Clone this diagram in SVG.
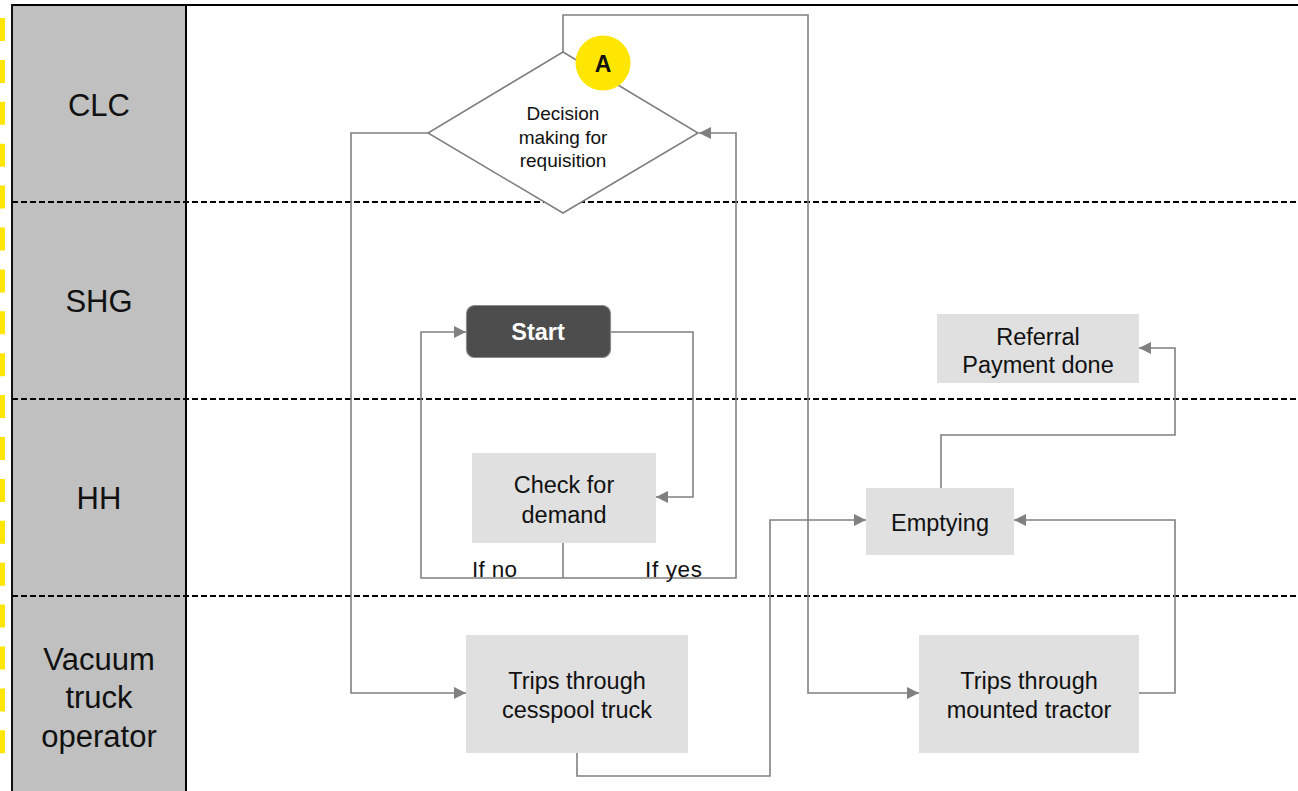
<svg xmlns="http://www.w3.org/2000/svg" width="1298" height="791" viewBox="0 0 1298 791">
<style>
.lane{font-family:"Liberation Sans",Arial,sans-serif;font-size:31px;fill:#111;text-anchor:middle}
.box{fill:#e0e0e0}
.bt{font-family:"Liberation Sans",Arial,sans-serif;font-size:23.5px;fill:#111;text-anchor:middle}
.dt{font-family:"Liberation Sans",Arial,sans-serif;font-size:19px;fill:#111;text-anchor:middle}
.lbl{font-family:"Liberation Sans",Arial,sans-serif;font-size:22.5px;fill:#111}
.sep{stroke:#000;stroke-width:2;stroke-dasharray:6 3;fill:none}
.conn path{fill:none;stroke:#808080;stroke-width:1.6}
</style>
<defs>
<marker id="arr" markerUnits="userSpaceOnUse" markerWidth="13" markerHeight="13" refX="12" refY="6" orient="auto">
<path d="M0,0 L12,6 L0,12 z" fill="#808080"/>
</marker>
</defs>
<rect width="1298" height="791" fill="#ffffff"/>
<g id="lanes">
<rect x="12" y="5" width="173" height="786" fill="#c0c0c0"/>
<line x1="2.5" y1="18" x2="2.5" y2="756" stroke="#ffe600" stroke-width="5" stroke-dasharray="23 18.9"/>
<line x1="11" y1="5" x2="1298" y2="5" stroke="#000" stroke-width="2.2"/>
<line x1="12" y1="4" x2="12" y2="791" stroke="#111" stroke-width="2"/>
<line x1="186" y1="4" x2="186" y2="791" stroke="#000" stroke-width="2"/>
<line class="sep" x1="12" y1="202" x2="1298" y2="202"/>
<line class="sep" x1="12" y1="399" x2="1298" y2="399"/>
<line class="sep" x1="12" y1="596" x2="1298" y2="596"/>
<text class="lane" x="99" y="116">CLC</text>
<text class="lane" x="99" y="312">SHG</text>
<text class="lane" x="99" y="509">HH</text>
<text class="lane" x="99" y="670">Vacuum</text>
<text class="lane" x="99" y="708">truck</text>
<text class="lane" x="99" y="747">operator</text>
</g>
<g id="connectors" class="conn">
<path d="M563,52 V15 H808 V693 H919" marker-end="url(#arr)"/>
<path d="M428,133 H351 V693 H466" marker-end="url(#arr)"/>
<path d="M563,543 V578"/>
<path d="M563,578 H421 V332 H466" marker-end="url(#arr)"/>
<path d="M563,578 H736 V133 H699" marker-end="url(#arr)"/>
<path d="M611,332 H693 V497 H656" marker-end="url(#arr)"/>
<path d="M577,753 V776 H770 V520 H866" marker-end="url(#arr)"/>
<path d="M1139,693 H1175 V520 H1014" marker-end="url(#arr)"/>
<path d="M941,488 V435 H1175 V348 H1139" marker-end="url(#arr)"/>
</g>
<g id="decision">
<polygon points="563,52 698,133 563,213 428,133" fill="#ffffff" stroke="#808080" stroke-width="1.6"/>
<text class="dt" x="563" y="120">Decision</text>
<text class="dt" x="563" y="143.5">making for</text>
<text class="dt" x="563" y="167">requisition</text>
</g>
<g id="markerA">
<circle cx="603" cy="63" r="27.5" fill="#ffe600"/>
<text x="603" y="71.5" font-family="'Liberation Sans',Arial,sans-serif" font-size="23px" font-weight="bold" text-anchor="middle" fill="#111">A</text>
</g>
<g id="start">
<rect x="466.5" y="305.5" width="144" height="52" rx="8" fill="#4d4d4d" stroke="#8a8a8a" stroke-width="1.2"/>
<text x="538" y="340" font-family="'Liberation Sans',Arial,sans-serif" font-size="23.5px" font-weight="bold" text-anchor="middle" fill="#ffffff">Start</text>
</g>
<g id="check">
<rect class="box" x="472" y="453" width="184" height="90"/>
<text class="bt" x="564" y="493">Check for</text>
<text class="bt" x="564" y="523">demand</text>
</g>
<g id="labels">
<text class="lbl" x="472" y="577" textLength="45" lengthAdjust="spacing">If no</text>
<text class="lbl" x="645" y="577" textLength="57" lengthAdjust="spacing">If yes</text>
</g>
<g id="referral">
<rect class="box" x="937" y="314" width="202" height="69"/>
<text class="bt" x="1038" y="345">Referral</text>
<text class="bt" x="1038" y="373">Payment done</text>
</g>
<g id="emptying">
<rect class="box" x="866" y="488" width="148" height="67"/>
<text class="bt" x="940" y="531">Emptying</text>
</g>
<g id="cesspool">
<rect class="box" x="466" y="635" width="222" height="118"/>
<text class="bt" x="577" y="689">Trips through</text>
<text class="bt" x="577" y="718">cesspool truck</text>
</g>
<g id="tractor">
<rect class="box" x="919" y="635" width="220" height="118"/>
<text class="bt" x="1029" y="689">Trips through</text>
<text class="bt" x="1029" y="718">mounted tractor</text>
</g>
</svg>
